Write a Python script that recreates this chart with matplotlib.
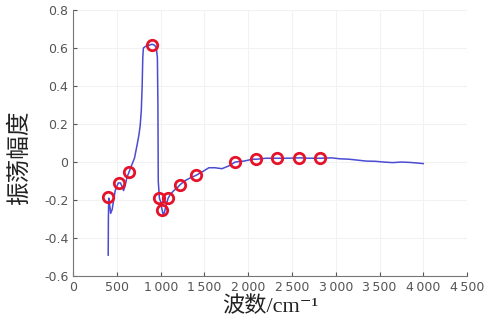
import matplotlib
matplotlib.use("Agg")
import matplotlib.pyplot as plt

# curve (wavenumber, amplitude)
line_x = [400, 402, 406, 415, 428, 445, 480, 515, 540, 560, 575, 590, 615, 640, 665, 700, 730, 750,
          765, 778, 788, 795, 802, 830, 870, 900, 930, 950, 962, 968, 972, 985, 1000, 1015, 1030, 1045,
          1065, 1085, 1110, 1150, 1190, 1220, 1270, 1330, 1404, 1480, 1550, 1620, 1700, 1780, 1850,
          1950, 2050, 2100, 2200, 2330, 2450, 2590, 2700, 2820, 2950, 3050, 3150, 3250, 3350,
          3450, 3550, 3650, 3750, 3850, 3950, 4000]
line_y = [-0.49, -0.30, -0.19, -0.22, -0.27, -0.25, -0.15, -0.11, -0.11, -0.13, -0.15, -0.13, -0.08,
          -0.05, -0.02, 0.02, 0.09, 0.14, 0.19, 0.27, 0.40, 0.55, 0.60, 0.61, 0.615, 0.62, 0.615, 0.60,
          0.55, 0.30, -0.10, -0.19, -0.21, -0.25, -0.28, -0.26, -0.22, -0.19, -0.17, -0.15, -0.135,
          -0.12, -0.10, -0.085, -0.07, -0.05, -0.03, -0.03, -0.035, -0.02, 0.0, 0.005, 0.015, 0.015,
          0.02, 0.02, 0.02, 0.022, 0.02, 0.02, 0.022, 0.017, 0.015, 0.01, 0.005, 0.004, 0.0, -0.003,
          0.0, -0.002, -0.006, -0.008]

# highlighted points
mark_x = [395, 520, 635, 905, 975, 1018, 1085, 1222, 1404, 1850, 2090, 2330, 2585, 2820]
mark_y = [-0.185, -0.11, -0.05, 0.615, -0.19, -0.255, -0.19, -0.12, -0.07, 0.0, 0.015, 0.02, 0.022, 0.02]

x_ticks = [0, 500, 1000, 1500, 2000, 2500, 3000, 3500, 4000, 4500]
x_labels = ["0", "500", "1\u2009000", "1\u2009500", "2\u2009000", "2\u2009500", "3\u2009000",
            "3\u2009500", "4\u2009000", "4\u2009500"]
y_ticks = [-0.6, -0.4, -0.2, 0, 0.2, 0.4, 0.6, 0.8]
y_labels = ["-0.6", "-0.4", "-0.2", "0", "0.2", "0.4", "0.6", "0.8"]

fig = plt.figure(figsize=(4.88, 3.24), dpi=100)
ax = fig.add_axes([0.150, 0.148, 0.807, 0.821])

ax.plot(line_x, line_y, color="#4b4bd4", lw=1.1, zorder=2)
ax.plot(mark_x, mark_y, linestyle="none", marker="o", ms=7.5, mfc="none", mec="#e5132a", mew=2.0,
        zorder=3)

ax.set_xlim(0, 4500)
ax.set_ylim(-0.6, 0.8)
ax.set_xticks(x_ticks)
ax.set_xticklabels(x_labels)
ax.set_yticks(y_ticks)
ax.set_yticklabels(y_labels)
ax.tick_params(direction="in", length=3, labelsize=9, colors="#555555", labelcolor="#555555")
for s in ["top", "right"]:
    ax.spines[s].set_visible(False)
for s in ["left", "bottom"]:
    ax.spines[s].set_color("#777777")
    ax.spines[s].set_linewidth(0.8)
ax.grid(True, color="#f2f2f2", lw=0.8, zorder=0)
ax.set_axisbelow(True)

ax.set_ylabel("振荡幅度", fontsize=17, family=["Noto Sans CJK SC", "DejaVu Sans"],
              color="#222222")
ax.yaxis.set_label_coords(-0.108, 0.444)
ax.set_xlabel("波数/cm\u207b\u00b9", fontsize=16,
              family=["Liberation Serif", "DejaVu Serif", "Noto Sans CJK SC"],
              color="#222222", labelpad=2)

fig.savefig("out.png", dpi=100)
